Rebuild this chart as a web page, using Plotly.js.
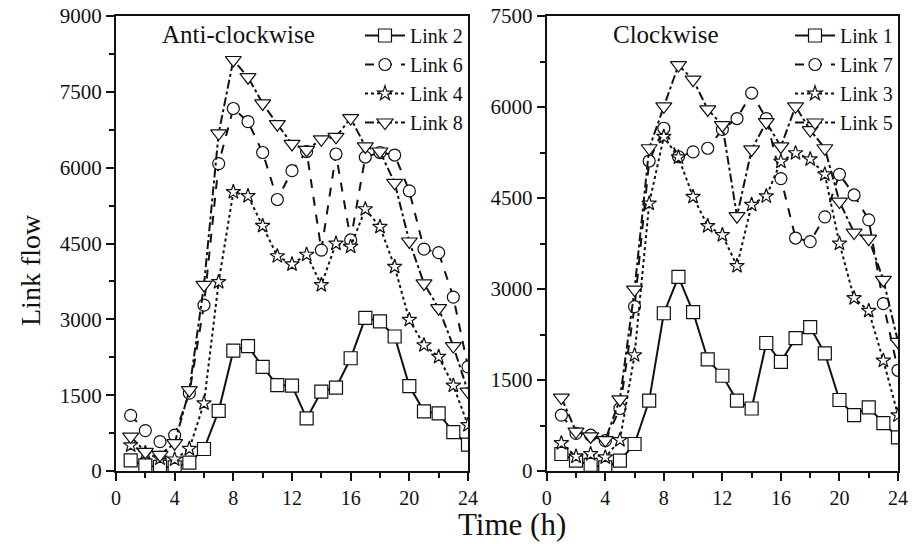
<!DOCTYPE html>
<html>
<head>
<meta charset="utf-8">
<script src="https://cdn.plot.ly/plotly-3.0.1.min.js"></script>
<style>html,body{margin:0;padding:0;background:#fff;}#chart{width:914px;height:544px;}</style>
</head>
<body>
<div id="chart"></div>
<script>
// Hours
const hours = [1,2,3,4,5,6,7,8,9,10,11,12,13,14,15,16,17,18,19,20,21,22,23,24];

// Anti-clockwise panel
const link2 = [210,110,80,70,165,435,1190,2380,2470,2060,1700,1690,1040,1570,1650,2230,3030,2960,2660,1680,1180,1140,770,520];
const link6 = [1100,800,580,710,1540,3280,6080,7170,6910,6300,5370,5940,6320,4370,6270,4570,6210,6300,6250,5540,4390,4320,3440,2060];
const link4 = [510,360,250,230,440,1340,3740,5520,5440,4850,4250,4090,4280,3680,4500,4440,5180,4830,4040,2990,2490,2260,1690,910];
const link8 = [680,380,320,550,1600,3680,6680,8130,7790,7270,6860,6470,6350,6560,6610,6980,6420,6320,5700,4540,3710,3220,2470,1570];

// Clockwise panel
const link1 = [280,170,100,60,170,445,1160,2600,3200,2620,1840,1570,1160,1030,2110,1800,2190,2370,1940,1170,920,1050,790,555];
const link7 = [920,620,590,500,1030,2710,5110,5650,5180,5260,5320,5630,5810,6230,5810,4820,3840,3780,4190,4890,4550,4140,2760,1660];
const link3 = [460,240,280,225,510,1910,4410,5510,5170,4520,4040,3890,3380,4390,4530,5100,5240,5140,4890,3750,2850,2640,1820,920];
const link5 = [1210,650,570,510,1180,2990,5320,6010,6690,6450,5960,5700,4200,5300,5750,5350,6010,5620,5320,4440,3930,3830,3150,2130];

const serif = 'Liberation Serif, Times New Roman, serif';
const lineW = 2;
const sizes = {'square': 13, 'circle': 12, 'star': 11, 'triangle-down': 14};

function tr(name, y, dash, symbol, xa, ya, leg) {
  return {
    x: hours, y: y, name: name, type: 'scatter', mode: 'lines+markers',
    xaxis: xa, yaxis: ya, legend: leg,
    line: {color: '#111', width: lineW, dash: dash},
    marker: {symbol: symbol, size: sizes[symbol], color: '#fff',
             line: {color: '#111', width: 1.2}}
  };
}

const data = [
  tr('Link 2', link2, 'solid', 'square', 'x', 'y', 'legend'),
  tr('Link 6', link6, 'dash', 'circle', 'x', 'y', 'legend'),
  tr('Link 4', link4, 'dot', 'star', 'x', 'y', 'legend'),
  tr('Link 8', link8, 'dashdot', 'triangle-down', 'x', 'y', 'legend'),
  tr('Link 1', link1, 'solid', 'square', 'x2', 'y2', 'legend2'),
  tr('Link 7', link7, 'dash', 'circle', 'x2', 'y2', 'legend2'),
  tr('Link 3', link3, 'dot', 'star', 'x2', 'y2', 'legend2'),
  tr('Link 5', link5, 'dashdot', 'triangle-down', 'x2', 'y2', 'legend2')
];

const tickFont = {family: serif, size: 20, color: '#111'};
function xAxis(domain, anchor) {
  return {
    domain: domain, anchor: anchor, range: [0, 24], dtick: 4, tick0: 0,
    showgrid: false, zeroline: false, showline: true, linecolor: '#111', linewidth: 2,
    mirror: true, ticks: 'outside', ticklen: 8, tickwidth: 2, tickcolor: '#111',
    tickfont: tickFont,
    minor: {dtick: 2, ticks: 'outside', ticklen: 5, tickwidth: 2, tickcolor: '#111', showgrid: false}
  };
}
function yAxis(max, anchor) {
  return {
    domain: [0, 1], anchor: anchor, range: [0, max], dtick: 1500, tick0: 0,
    showgrid: false, zeroline: false, showline: true, linecolor: '#111', linewidth: 2,
    mirror: true, ticks: 'outside', ticklen: 8, tickwidth: 2, tickcolor: '#111',
    tickfont: {family: serif, size: 21, color: '#111'},
    minor: {dtick: 750, ticks: 'outside', ticklen: 5, tickwidth: 2, tickcolor: '#111', showgrid: false}
  };
}

const legFont = {family: serif, size: 20, color: '#111'};
const layout = {
  width: 914, height: 544,
  margin: {l: 116, r: 16, t: 16, b: 73},
  paper_bgcolor: '#fff', plot_bgcolor: '#fff',
  showlegend: true,
  xaxis: xAxis([0, 0.4501], 'y'),
  yaxis: yAxis(9000, 'x'),
  xaxis2: xAxis([0.5508, 1], 'y2'),
  yaxis2: yAxis(7500, 'x2'),
  legend: {x: 0.4501, y: 1, xanchor: 'right', yanchor: 'top', bgcolor: 'rgba(0,0,0,0)',
           font: legFont, tracegroupgap: 0, itemwidth: 40},
  legend2: {x: 1, y: 1, xanchor: 'right', yanchor: 'top', bgcolor: 'rgba(0,0,0,0)',
            font: legFont, tracegroupgap: 0, itemwidth: 40},
  annotations: [
    {text: 'Anti-clockwise', xref: 'paper', yref: 'paper', x: (238-116)/782, y: 1 - (35-16)/455,
     xanchor: 'center', yanchor: 'middle', showarrow: false, font: {family: serif, size: 25, color: '#111'}},
    {text: 'Clockwise', xref: 'paper', yref: 'paper', x: (666-116)/782, y: 1 - (35-16)/455,
     xanchor: 'center', yanchor: 'middle', showarrow: false, font: {family: serif, size: 25, color: '#111'}},
    {text: 'Time (h)', xref: 'paper', yref: 'paper', x: (512-116)/782, y: -(544-471)/455,
     xanchor: 'center', yanchor: 'bottom', showarrow: false, font: {family: serif, size: 31, color: '#111'}},
    {text: 'Link flow', xref: 'paper', yref: 'paper', x: (30-116)/782, y: 1 - (270-16)/455,
     xanchor: 'center', yanchor: 'middle', textangle: -90, showarrow: false, font: {family: serif, size: 28, color: '#111'}}
  ]
};

Plotly.newPlot('chart', data, layout, {staticPlot: true, displayModeBar: false});
</script>
</body>
</html>
